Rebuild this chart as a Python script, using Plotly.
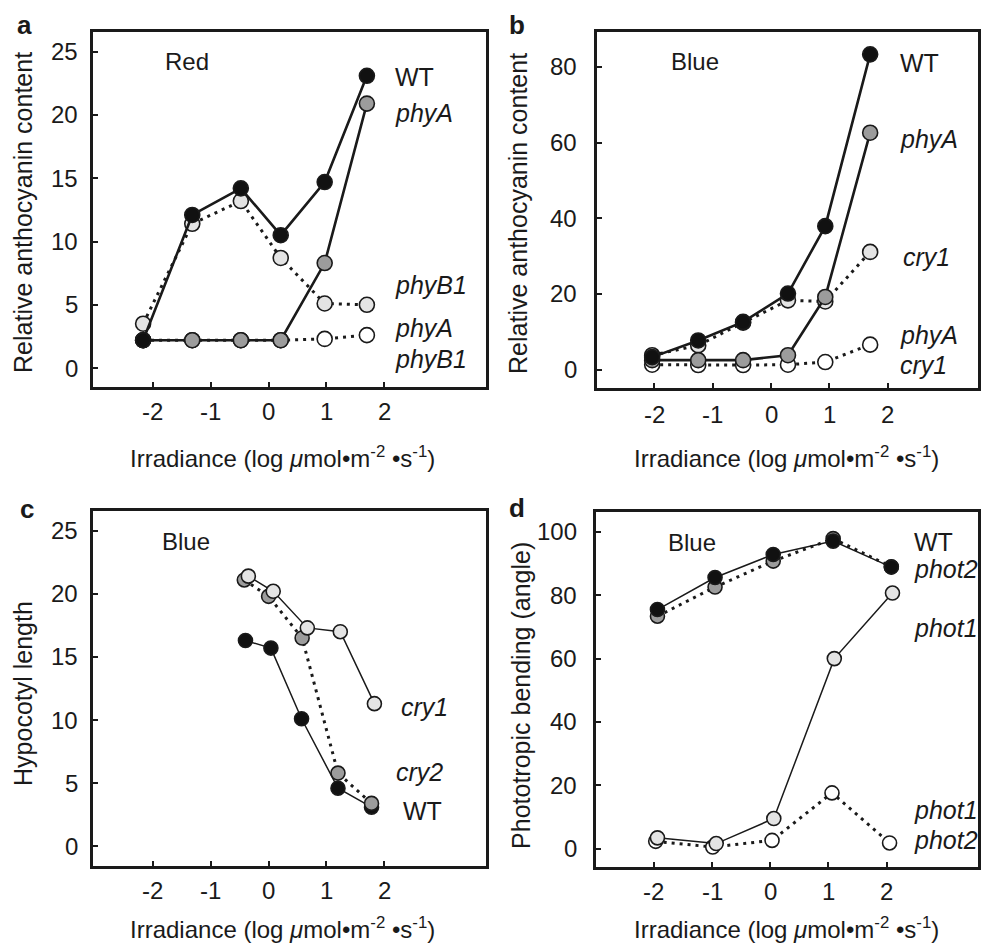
import plotly.graph_objects as go

# ---------------- data ----------------
# a: anthocyanin under red light
a_x = [-2.17, -1.32, -0.48, 0.21, 0.97, 1.70]
a_wt = [2.2, 12.1, 14.2, 10.5, 14.7, 23.1]
a_phyA = [2.2, 2.2, 2.2, 2.2, 8.3, 20.9]
a_phyB1 = [3.5, 11.4, 13.2, 8.7, 5.1, 5.0]
a_phyA_phyB1 = [2.2, 2.2, 2.2, 2.2, 2.3, 2.6]

# b: anthocyanin under blue light
b_x = [-2.04, -1.25, -0.48, 0.29, 0.93, 1.70]
b_wt = [3.3, 7.7, 12.6, 20.1, 37.9, 83.3]
b_phyA = [2.5, 2.5, 2.5, 3.8, 19.2, 62.6]
b_cry1 = [3.8, 6.4, 12.4, 18.3, 18.0, 31.1]
b_phyA_cry1 = [1.3, 1.2, 1.2, 1.3, 2.0, 6.6]

# c: hypocotyl length under blue light
c_x_wt = [-0.40, 0.04, 0.57, 1.20, 1.78]
c_wt = [16.3, 15.7, 10.1, 4.6, 3.1]
c_x_cry2 = [-0.42, 0.00, 0.58, 1.20, 1.78]
c_cry2 = [21.1, 19.8, 16.5, 5.8, 3.4]
c_x_cry1 = [-0.35, 0.08, 0.67, 1.24, 1.83]
c_cry1 = [21.4, 20.2, 17.3, 17.0, 11.3]

# d: phototropic bending under blue light
d_x = [-1.94, -0.95, 0.05, 1.08, 2.08]
d_wt = [75.5, 85.6, 92.9, 97.1, 88.9]
d_phot2 = [73.4, 82.6, 90.8, 97.9, 89.0]
d_x_phot1 = [-1.94, -0.93, 0.06, 1.10, 2.10]
d_phot1 = [3.4, 1.6, 9.5, 60.0, 80.7]
d_x_double = [-1.97, -0.99, 0.03, 1.06, 2.05]
d_phot1_phot2 = [2.3, 0.5, 2.6, 17.6, 1.8]

x_ticks = [-2, -1, 0, 1, 2]
a_y_ticks = [0, 5, 10, 15, 20, 25]
b_y_ticks = [0, 20, 40, 60, 80]
c_y_ticks = [0, 5, 10, 15, 20, 25]
d_y_ticks = [0, 20, 40, 60, 80, 100]

# ---------------- styling ----------------
W, H = 981, 945
FONT = "Liberation Sans, Arial, Helvetica, sans-serif"
INK = "#1a1a1a"
BLACK = "#111111"
GRAY = "#9c9c9c"
LIGHT = "#e4e4e4"
WHITE = "#ffffff"
DOT = "3px,5px"

fig = go.Figure()


def px_x(p):
    return p / W


def px_y(p):
    return 1 - p / H


def add_series(xa, ya, xs, ys, fill, dash, lw, msize):
    fig.add_trace(go.Scatter(
        x=xs, y=ys, xaxis=xa, yaxis=ya, mode="lines+markers",
        line=dict(color=INK, width=lw, dash=dash),
        marker=dict(size=msize, color=fill, line=dict(color=INK, width=1.6)),
        showlegend=False, hoverinfo="skip",
    ))


# a (bottom-most trace first)
add_series("x", "y", a_x, a_phyA_phyB1, WHITE, DOT, 3, 15)
add_series("x", "y", a_x, a_phyB1, LIGHT, DOT, 3, 15)
add_series("x", "y", a_x, a_phyA, GRAY, "solid", 2.6, 15)
add_series("x", "y", a_x, a_wt, BLACK, "solid", 2.6, 15)

# b
add_series("x2", "y2", b_x, b_phyA_cry1, WHITE, DOT, 3, 15)
add_series("x2", "y2", b_x, b_cry1, LIGHT, DOT, 3, 15)
add_series("x2", "y2", b_x, b_phyA, GRAY, "solid", 2.6, 15)
add_series("x2", "y2", b_x, b_wt, BLACK, "solid", 2.6, 15)

# c
add_series("x3", "y3", c_x_wt, c_wt, BLACK, "solid", 1.5, 14)
add_series("x3", "y3", c_x_cry2, c_cry2, GRAY, DOT, 3, 14)
add_series("x3", "y3", c_x_cry1, c_cry1, LIGHT, "solid", 1.5, 14)

# d
add_series("x4", "y4", d_x_double, d_phot1_phot2, WHITE, DOT, 3, 14)
add_series("x4", "y4", d_x_phot1, d_phot1, LIGHT, "solid", 1.5, 14)
add_series("x4", "y4", d_x, d_phot2, GRAY, DOT, 3, 14)
add_series("x4", "y4", d_x, d_wt, BLACK, "solid", 1.5, 14)

# panel boxes in pixels: (left, top, right, bottom)
boxes = {
    "a": (93, 32, 487, 387),
    "b": (598, 32, 980, 388),
    "c": (93, 511, 487, 866),
    "d": (597, 512, 980, 867),
}
x_ranges = {"a": [-3.04, 3.76], "b": [-2.99, 3.55], "c": [-3.04, 3.76], "d": [-3.0, 3.57]}
y_ranges = {"a": [-1.5, 26.56], "b": [-4.86, 89.2], "c": [-1.56, 26.56], "d": [-5.8, 106.3]}
y_ticks = {"a": a_y_ticks, "b": b_y_ticks, "c": c_y_ticks, "d": d_y_ticks}
suffix = {"a": "", "b": "2", "c": "3", "d": "4"}
# tick label placement: right edge of y labels, centre line of x labels (pixels)
y_label_right = {"a": 80, "b": 580, "c": 80, "d": 580}
x_label_mid = {"a": 412, "b": 414, "c": 890, "d": 891}

layout_axes = {}
for key, (l, t, r, b) in boxes.items():
    s = suffix[key]
    layout_axes["xaxis" + s] = dict(
        domain=[px_x(l), px_x(r)], range=x_ranges[key], anchor="y" + s,
        tickmode="array", tickvals=x_ticks, showticklabels=False,
        ticks="inside", ticklen=5, tickwidth=2, tickcolor=INK,
        showline=True, linecolor=INK, linewidth=2.5, mirror=True,
        showgrid=False, zeroline=False,
    )
    layout_axes["yaxis" + s] = dict(
        domain=[px_y(b), px_y(t)], range=y_ranges[key], anchor="x" + s,
        tickmode="array", tickvals=y_ticks[key], showticklabels=False,
        ticks="inside", ticklen=5, tickwidth=2, tickcolor=INK,
        showline=True, linecolor=INK, linewidth=2.5, mirror=True,
        showgrid=False, zeroline=False,
    )

ann = []


def text(px, py, s, size=25, anchor="left", angle=0, bold=False):
    ann.append(dict(
        x=px_x(px), y=px_y(py), xref="paper", yref="paper", text=s,
        showarrow=False, xanchor=anchor, yanchor="middle", textangle=angle,
        font=dict(family=FONT, size=size, color=INK,
                  weight="bold" if bold else "normal"),
    ))


# tick labels, positioned on each axis' own scale
for key in boxes:
    s = suffix[key]
    for v in y_ticks[key]:
        ann.append(dict(
            x=px_x(y_label_right[key]), xref="paper", y=v, yref="y" + s,
            text=str(v), showarrow=False, xanchor="right", yanchor="middle",
            font=dict(family=FONT, size=24, color=INK),
        ))
    for v in x_ticks:
        ann.append(dict(
            x=v, xref="x" + s, y=px_y(x_label_mid[key]), yref="paper",
            text=str(v), showarrow=False, xanchor="center", yanchor="middle",
            font=dict(family=FONT, size=24, color=INK),
        ))

x_title = "Irradiance (log <i>\u03bc</i>mol\u2022m<sup>-2</sup> \u2022s<sup>-1</sup>)"

# panel letters
text(25, 25, "a", 26, "center", bold=True)
text(518, 25, "b", 26, "center", bold=True)
text(27, 509, "c", 26, "center", bold=True)
text(518, 508, "d", 26, "center", bold=True)

# axis titles
text(283, 457, x_title, 24, "center")
text(788, 457, x_title, 24, "center")
text(283, 928, x_title, 24, "center")
text(788, 928, x_title, 24, "center")
text(23, 212, "Relative anthocyanin content", 25, "center", -90)
text(519, 213, "Relative anthocyanin content", 25, "center", -90)
text(23, 693, "Hypocotyl length", 25, "center", -90)
text(522, 695, "Phototropic bending (angle)", 25, "center", -90)

# light conditions
text(187, 61, "Red", 24, "center")
text(696, 62, "Blue", 24, "center")
text(186, 541, "Blue", 24, "center")
text(693, 542, "Blue", 24, "center")

# genotype labels
text(394, 77, "WT")
text(394, 113, "<i>phyA</i>")
text(394, 285, "<i>phyB1</i>")
text(394, 328, "<i>phyA</i>")
text(394, 359, "<i>phyB1</i>")

text(900, 63, "WT")
text(900, 139, "<i>phyA</i>")
text(903, 257, "<i>cry1</i>")
text(900, 335, "<i>phyA</i>")
text(900, 365, "<i>cry1</i>")

text(400, 707, "<i>cry1</i>")
text(395, 772, "<i>cry2</i>")
text(402, 811, "WT")

text(914, 542, "WT")
text(914, 569, "<i>phot2</i>")
text(914, 628, "<i>phot1</i>")
text(914, 810, "<i>phot1</i>")
text(914, 840, "<i>phot2</i>")

fig.update_layout(
    width=W, height=H, margin=dict(l=0, r=0, t=0, b=0),
    paper_bgcolor="white", plot_bgcolor="white",
    annotations=ann, **layout_axes,
)

fig.write_html("out.html")
